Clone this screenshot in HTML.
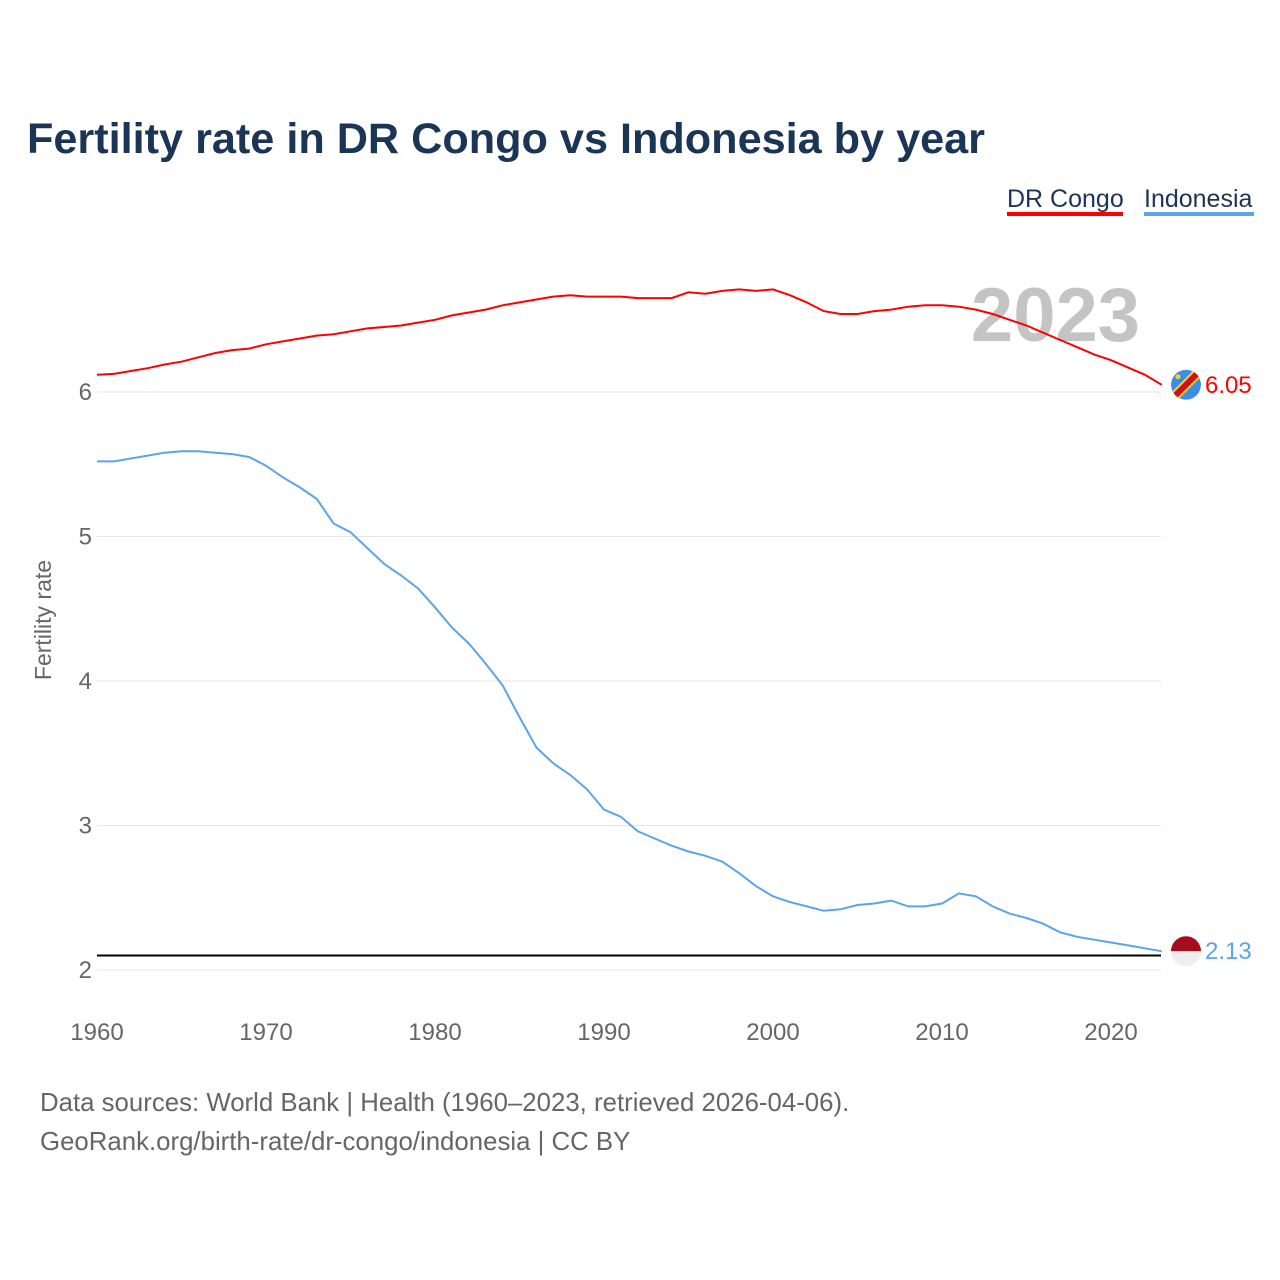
<!DOCTYPE html>
<html><head><meta charset="utf-8">
<style>
body{margin:0;background:#fff;font-family:"Liberation Sans",sans-serif;}
#wrap{position:relative;width:1280px;height:1280px;overflow:hidden;}
</style></head>
<body>
<div id="wrap">
<svg id="chart" width="1280" height="1280">
<text x="27" y="153" font-size="43" font-weight="bold" fill="#1b3556" textLength="958" lengthAdjust="spacingAndGlyphs">Fertility rate in DR Congo vs Indonesia by year</text>
<g>
<text x="1007" y="207" font-size="25" fill="#1b3556">DR Congo</text>
<rect x="1007" y="212" width="116" height="4" fill="#ff0000"/></g>
<g>
<text x="1144" y="207" font-size="25" fill="#1b3556">Indonesia</text>
<rect x="1144" y="212" width="110" height="4" fill="#5ba4ea"/></g>
<text x="1140" y="341" font-size="76" font-weight="bold" fill="#c4c4c4" text-anchor="end">2023</text>
<text transform="translate(51,620) rotate(-90)" font-size="23" fill="#666" text-anchor="middle">Fertility rate</text>
<g id="grid"></g><g id="lines"></g>
<text x="40" y="1111" font-size="25.8" fill="#666">Data sources: World Bank | Health (1960–2023, retrieved 2026-04-06).</text>
<text x="40" y="1150" font-size="25.8" fill="#666">GeoRank.org/birth-rate/dr-congo/indonesia | CC BY</text>
</svg></div>
<script>
const years=[];for(let y=1960;y<=2023;y++)years.push(y);
const drCongo=[6.12,6.125,6.145,6.165,6.19,6.21,6.24,6.27,6.29,6.30,6.33,6.35,6.37,6.39,6.40,6.42,6.44,6.45,6.46,6.48,6.50,6.53,6.55,6.57,6.60,6.62,6.64,6.66,6.67,6.66,6.66,6.66,6.65,6.65,6.65,6.69,6.68,6.70,6.71,6.70,6.71,6.67,6.62,6.56,6.54,6.54,6.56,6.57,6.59,6.60,6.60,6.59,6.57,6.54,6.50,6.46,6.41,6.36,6.31,6.26,6.22,6.17,6.12,6.05];
const indonesia=[5.52,5.52,5.54,5.56,5.58,5.59,5.59,5.58,5.57,5.55,5.49,5.41,5.34,5.26,5.09,5.03,4.92,4.81,4.73,4.64,4.51,4.37,4.26,4.12,3.97,3.75,3.54,3.43,3.35,3.25,3.11,3.06,2.96,2.91,2.86,2.82,2.79,2.75,2.67,2.58,2.51,2.47,2.44,2.41,2.42,2.45,2.46,2.48,2.44,2.44,2.46,2.53,2.51,2.44,2.39,2.36,2.32,2.26,2.23,2.21,2.19,2.17,2.15,2.13];
const yTicks=[2,3,4,5,6];
const xTicks=[1960,1970,1980,1990,2000,2010,2020];
const replacement=2.1;
const NS="http://www.w3.org/2000/svg";
const xs=y=>97+(y-1960)*(1014/60);
const ys=v=>970-(v-2)*144.5;
function mk(t,a,p){const e=document.createElementNS(NS,t);for(const k in a)e.setAttribute(k,a[k]);p.appendChild(e);return e;}
const grid=document.getElementById('grid'),lines=document.getElementById('lines');
yTicks.forEach(t=>{
 const l=mk('line',{x1:97,x2:1161,y1:ys(t),y2:ys(t),stroke:'#e6e6e6','stroke-width':1},grid);
 
 
 const tx=mk('text',{x:92,y:ys(t)+8,'font-size':24,fill:'#666','text-anchor':'end'},grid);tx.textContent=t;
 
 
});
xTicks.forEach(t=>{
 const tx=mk('text',{x:xs(t),y:1040,'font-size':24,fill:'#666','text-anchor':'middle'},grid);tx.textContent=t;
 
 
});
const rl=mk('line',{x1:97,x2:1161,y1:ys(replacement),y2:ys(replacement),stroke:'#000','stroke-width':2},lines);


function series(arr,col,name){
 const d=arr.map((v,i)=>(i?'L':'M')+xs(years[i]).toFixed(1)+' '+ys(v).toFixed(1)).join(' ');
 const p=mk('path',{d:d,fill:'none',stroke:col,'stroke-width':2},lines);
 
 
 const v=arr[arr.length-1],cy=ys(v);
 const t=mk('text',{x:1205,y:cy+8,'font-size':24,fill:col},lines);t.textContent=v.toFixed(2);
 
 
 return cy;
}
const c1=series(drCongo,'#ff0000','dr-congo');
const c2=series(indonesia,'#5ba4ea','indonesia');
const f1=mk('g',{},lines);


const cp=mk('clipPath',{id:'cp1'},f1);
mk('circle',{cx:1186,cy:c1,r:15},cp);
const g1=mk('g',{'clip-path':'url(#cp1)'},f1);
mk('circle',{cx:1186,cy:c1,r:15,fill:'#3b8ee8'},g1);
mk('line',{x1:1170,y1:c1+16,x2:1202,y2:c1-16,stroke:'#f7d618','stroke-width':10},g1);
mk('line',{x1:1170,y1:c1+16,x2:1202,y2:c1-16,stroke:'#ce1021','stroke-width':6},g1);
mk('circle',{cx:1178,cy:c1-8,r:2.5,fill:'#f7d618'},g1);
const f2=mk('g',{},lines);


mk('path',{d:`M1171 ${c2} A15 15 0 0 1 1201 ${c2} Z`,fill:'#a50d1f'},f2);
mk('path',{d:`M1171 ${c2} A15 15 0 0 0 1201 ${c2} Z`,fill:'#eeeeee'},f2);
</script>
</body></html>
